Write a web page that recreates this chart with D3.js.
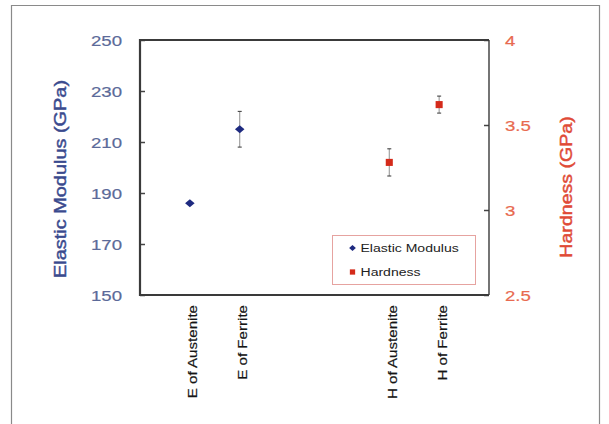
<!DOCTYPE html>
<html>
<head>
<meta charset="utf-8">
<script src="https://cdn.jsdelivr.net/npm/d3@7"></script>
<style>
  body { margin: 0; background: #fff; }
  text { font-family: "Liberation Sans", Arial, sans-serif; }
</style>
</head>
<body>
<div id="chart"></div>
<script>
// Data
const categories = ["E of Austenite", "E of Ferrite", "H of Austenite", "H of Ferrite"];
const slotIndex = [1, 2, 5, 6];           // category slots on a 0..7 axis
const modulusCats = ["E of Austenite", "E of Ferrite"];
const modulusValues = [186, 215];
const modulusErrors = [0, 7];
const hardnessCats = ["H of Austenite", "H of Ferrite"];
const hardnessValues = [3.28, 3.62];
const hardnessErrors = [0.08, 0.05];
const leftTicks = [150, 170, 190, 210, 230, 250];
const rightTicks = [2.5, 3, 3.5, 4];

const svgWidth = 609;
const svgHeight = 424;
const margin = { top: 40, right: 120, bottom: 129, left: 140 };
const chartWidth = svgWidth - margin.left - margin.right;
const chartHeight = svgHeight - margin.top - margin.bottom;
const stretch = 1.2; // text in the picture is widened horizontally

const svg = d3.select("#chart")
  .append("svg")
  .attr("width", svgWidth)
  .attr("height", svgHeight);

// outer frame of the figure
svg.append("path")
  .attr("d", `M11.5,${svgHeight} V5.5 H599.5 V${svgHeight}`)
  .attr("fill", "none")
  .attr("stroke", "#8a8a8a")
  .attr("stroke-width", 1.2);

const chartGroup = svg.append("g")
  .attr("transform", `translate(${margin.left}, ${margin.top})`);

// scales
const xScale = d3.scaleLinear().domain([0, 7]).range([0, chartWidth]);
const slotOf = c => slotIndex[categories.indexOf(c)];
const yLeft = d3.scaleLinear().domain([150, 250]).range([chartHeight, 0]);
const yRight = d3.scaleLinear().domain([2.5, 4]).range([chartHeight, 0]);

// left axis (ticks point inward)
const leftAxis = d3.axisRight(yLeft).tickValues(leftTicks).tickSize(5).tickFormat("");
chartGroup.append("g").call(leftAxis)
  .call(g => g.select(".domain").remove())
  .selectAll("line").attr("stroke", "#444").attr("stroke-width", 1.5);

chartGroup.append("g").selectAll("text")
  .data(leftTicks)
  .enter()
  .append("text")
  .attr("transform", d => `translate(-18, ${yLeft(d)}) scale(${stretch},1)`)
  .attr("dy", "0.36em")
  .attr("text-anchor", "end")
  .attr("font-size", 15.5)
  .attr("fill", "#5b6a99")
  .attr("stroke", "#5b6a99")
  .attr("stroke-width", 0.2)
  .text(d => d);

// right axis (ticks point inward)
const rightAxis = d3.axisLeft(yRight).tickValues(rightTicks).tickSize(5).tickFormat("");
chartGroup.append("g")
  .attr("transform", `translate(${chartWidth}, 0)`)
  .call(rightAxis)
  .call(g => g.select(".domain").remove())
  .selectAll("line").attr("stroke", "#444").attr("stroke-width", 1.5);

chartGroup.append("g").selectAll("text")
  .data(rightTicks)
  .enter()
  .append("text")
  .attr("transform", d => `translate(${chartWidth + 16}, ${yRight(d)}) scale(${stretch},1)`)
  .attr("dy", "0.36em")
  .attr("font-size", 15.5)
  .attr("fill", "#e86a50")
  .attr("stroke", "#e86a50")
  .attr("stroke-width", 0.2)
  .text(d => d);

// plot frame
chartGroup.append("path")
  .attr("d", `M${chartWidth},0 H0 V${chartHeight} H${chartWidth}`)
  .attr("fill", "none")
  .attr("stroke", "#3a3a3a")
  .attr("stroke-width", 2.2);
chartGroup.append("line")
  .attr("x1", chartWidth).attr("x2", chartWidth)
  .attr("y1", 0).attr("y2", chartHeight)
  .attr("stroke", "#3a3a3a")
  .attr("stroke-width", 1.4);

// category labels
chartGroup.append("g").selectAll("text")
  .data(categories)
  .enter()
  .append("text")
  .attr("transform", d => `translate(${xScale(slotOf(d)) + 3}, ${chartHeight + 10}) rotate(-90) scale(${stretch},1)`)
  .attr("dy", "0.36em")
  .attr("text-anchor", "end")
  .attr("font-size", 12.6)
  .attr("fill", "#151515")
  .attr("stroke", "#151515")
  .attr("stroke-width", 0.2)
  .text(d => d);

// error bars
function errorBars(cats, values, errors, scale) {
  const g = chartGroup.append("g")
    .attr("stroke", "#444")
    .attr("stroke-width", 1.1);
  cats.forEach((c, i) => {
    if (!errors[i]) return;
    const x = xScale(slotOf(c));
    const y1 = scale(values[i] + errors[i]);
    const y2 = scale(values[i] - errors[i]);
    g.append("line").attr("x1", x).attr("x2", x).attr("y1", y1).attr("y2", y2).attr("stroke", "#999");
    g.append("line").attr("x1", x - 2).attr("x2", x + 2).attr("y1", y1).attr("y2", y1);
    g.append("line").attr("x1", x - 2).attr("x2", x + 2).attr("y1", y2).attr("y2", y2);
  });
}
errorBars(modulusCats, modulusValues, modulusErrors, yLeft);
errorBars(hardnessCats, hardnessValues, hardnessErrors, yRight);

// markers
const diamond = d3.symbol().type(d3.symbolDiamond2).size(40);
const square = d3.symbol().type(d3.symbolSquare).size(50);

chartGroup.append("g").selectAll("path")
  .data(modulusCats)
  .enter()
  .append("path")
  .attr("d", diamond)
  .attr("transform", (d, i) => `translate(${xScale(slotOf(d))}, ${yLeft(modulusValues[i])}) scale(1.2,1)`)
  .attr("fill", "#1e2a80");

chartGroup.append("g").selectAll("path")
  .data(hardnessCats)
  .enter()
  .append("path")
  .attr("d", square)
  .attr("transform", (d, i) => `translate(${xScale(slotOf(d))}, ${yRight(hardnessValues[i])})`)
  .attr("fill", "#d42a1a");

// axis titles
svg.append("text")
  .attr("transform", `translate(60, 179) rotate(-90) scale(${stretch},1)`)
  .attr("dy", "0.36em")
  .attr("text-anchor", "middle")
  .attr("font-size", 16.6)
  .attr("fill", "#3a4a8e")
  .attr("stroke", "#3a4a8e")
  .attr("stroke-width", 0.45)
  .text("Elastic Modulus (GPa)");

svg.append("text")
  .attr("transform", `translate(566, 187) rotate(-90) scale(${stretch},1)`)
  .attr("dy", "0.36em")
  .attr("text-anchor", "middle")
  .attr("font-size", 16.3)
  .attr("fill", "#e04a36")
  .attr("stroke", "#e04a36")
  .attr("stroke-width", 0.45)
  .text("Hardness (GPa)");

// legend
const legend = svg.append("g").attr("transform", "translate(332.5, 235.5)");
legend.append("rect")
  .attr("width", 143)
  .attr("height", 49)
  .attr("fill", "#fff")
  .attr("stroke", "#e6a3a0")
  .attr("stroke-width", 1);

const legendItems = [
  { label: "Elastic Modulus", symbol: d3.symbol().type(d3.symbolDiamond2).size(22), color: "#1e2a80", sx: 1.15 },
  { label: "Hardness", symbol: d3.symbol().type(d3.symbolSquare).size(28), color: "#d42a1a", sx: 1 }
];
legendItems.forEach((item, i) => {
  const y = 12.5 + i * 24;
  legend.append("path")
    .attr("d", item.symbol)
    .attr("transform", `translate(20, ${y}) scale(${item.sx},1)`)
    .attr("fill", item.color);
  legend.append("text")
    .attr("transform", `translate(28, ${y}) scale(${stretch},1)`)
    .attr("dy", "0.36em")
    .attr("font-size", 11.7)
    .attr("fill", "#222")
    .text(item.label);
});
</script>
</body>
</html>
